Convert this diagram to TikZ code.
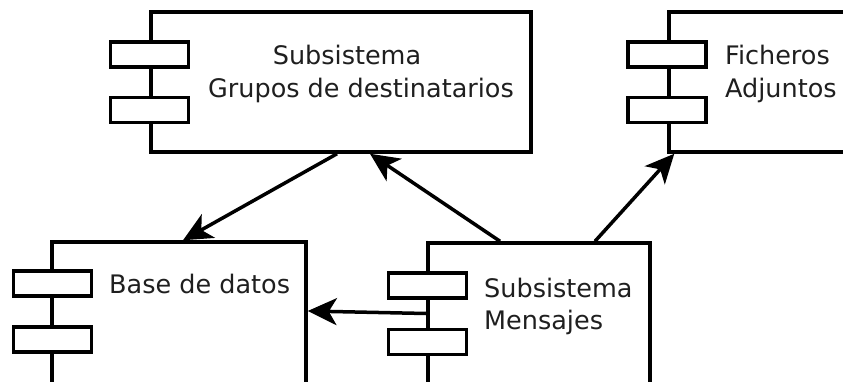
\documentclass[tikz,border=0pt]{standalone}
\usepackage{fontspec}
\setmainfont{DejaVu Sans}
\usetikzlibrary{arrows.meta}
\begin{document}
\begin{tikzpicture}[x=1pt,y=-1pt,
  comp/.style={draw=black,line width=3.5pt,fill=white,inner sep=0pt,rectangle},
  port/.style={draw=black,line width=3.5pt,fill=white,inner sep=0pt,minimum width=78pt,minimum height=25pt},
  lbl/.style={inner sep=0pt,font=\fontsize{25.5}{30}\selectfont,text=black!88},
  dep/.style={line width=3.5pt,-{Stealth[length=29pt,width=27pt,inset=8pt]}}]
\useasboundingbox (0,0) rectangle (843,381);
\begin{scope}
\clip (0,0) rectangle (843,381);
% components
\node[comp,minimum width=380pt,minimum height=140pt] (grupos) at (341,82) {};
\node[comp,minimum width=231pt,minimum height=140pt] (fich) at (784.5,82) {};
\node[comp,minimum width=254pt,minimum height=178pt] (base) at (179,331) {};
\node[comp,minimum width=222pt,minimum height=178pt] (mens) at (539,332) {};
% ports
\node[port] (gp1) at (149.5,54.5) {};
\node[port] (gp2) at (149.5,110) {};
\node[port] (fp1) at (667,54.5) {};
\node[port] (fp2) at (667,110) {};
\node[port] (bp1) at (52.5,283.5) {};
\node[port] (bp2) at (52.5,339.5) {};
\node[port] (mp1) at (427.5,285.5) {};
\node[port] (mp2) at (427.5,342) {};
% labels
\node[lbl,anchor=base] (g1) at (347,64) {Subsistema};
\node[lbl,anchor=base] (g2) at (361,97) {Grupos de destinatarios};
\node[lbl,anchor=base west] (f1) at (725,64) {Ficheros};
\node[lbl,anchor=base west] (f2) at (725,97) {Adjuntos};
\node[lbl,anchor=base west] (b1) at (109,293) {Base de datos};
\node[lbl,anchor=base west] (m1) at (484,297) {Subsistema};
\node[lbl,anchor=base west] (m2) at (484,329) {Mensajes};
% dependencies
\draw[dep] ([xshift=-4pt]grupos.south) -- ([xshift=4pt]base.north);
\draw[dep] ([xshift=-39pt]mens.north) -- ([xshift=29pt]grupos.south);
\draw[dep] ([xshift=56pt]mens.north) -- ([xshift=7pt]fich.south west);
\draw[dep] ([yshift=18.5pt]mens.west) -- ([yshift=20pt]base.east);
\end{scope}
\end{tikzpicture}
\end{document}
